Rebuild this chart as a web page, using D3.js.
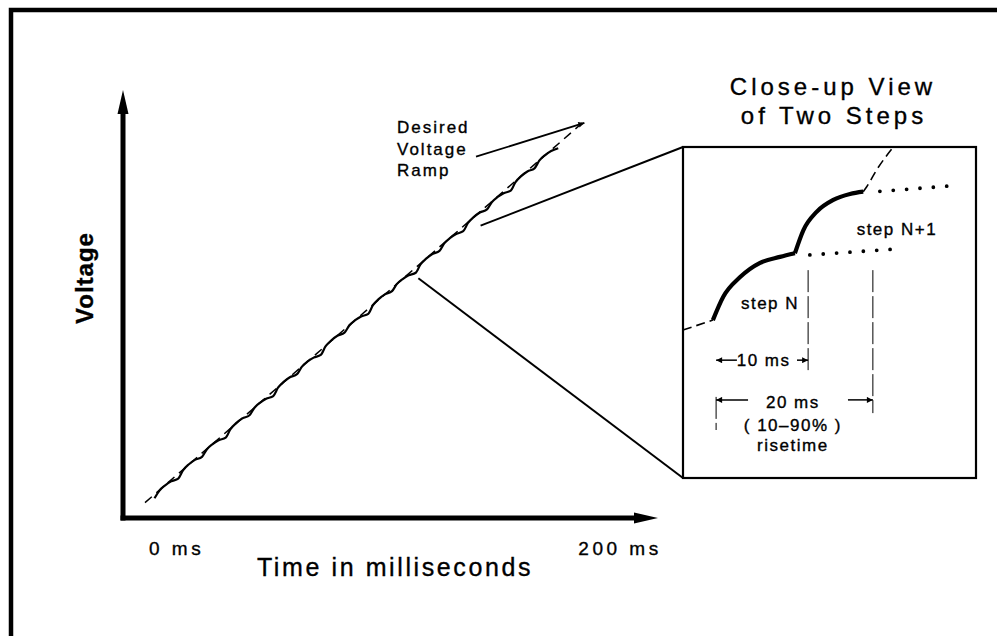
<!DOCTYPE html>
<html>
  <head>
    <meta charset="UTF-8" />
    <script src="https://d3js.org/d3.v7.min.js"></script>
    <title>Close-up View of Two Steps</title>
    <style>
      body { margin: 0; background: #fff; }
      text { font-family: "Liberation Sans", Arial, sans-serif; fill: #000; stroke: #000; stroke-width: 0.35px; }
    </style>
  </head>
  <body>
    <div id="chart"></div>
    <script>
      // ---- data ----
      // main plot: time in ms, voltage in % of full scale
      var rampTime = [0, 186];
      var rampVolt = [3.6, 93.2];

      // one 10 ms step each, voltage at the start of each step (last = end level)
      var stepTimes = [4, 14, 24, 34, 44, 54, 64, 74, 84, 94, 104, 114, 124, 134, 144, 154, 164, 174];
      var stepLevels = [4.6, 9.2, 14.3, 18.8, 24.0, 28.5, 33.6, 38.1, 43.3, 47.7, 53.0, 57.3, 62.4, 67.0, 72.1, 76.5, 81.7, 86.4];
      // shape of one small step in the main plot (fraction of width / of height)
      var stepShapeU = [0, 0.2, 0.45, 0.7, 1];
      var stepShapeV = [0, 0.38, 0.66, 0.86, 1];

      var xTickLabels = ["0 ms", "200 ms"];
      var xTickValues = [0, 200];

      // close-up inset, in % of the inset box
      var leadIn = [[0, 44.7], [10.2, 47.7]];
      var stepN = [[10.2, 47.7], [13.7, 54.7], [19.5, 60.7], [26.3, 65.0], [33.1, 66.8], [38.2, 67.9]];
      var stepN1 = [[38.2, 67.9], [41.1, 74.9], [45.6, 80.4], [51.3, 84.0], [57.0, 85.8], [61.5, 86.5]];
      var leadOut = [[61.5, 86.5], [62.7, 88.0], [66.1, 93.1], [71.8, 100]];
      var levelN = [[43.3, 67.4], [71.2, 69.1]];
      var levelN1 = [[67.2, 86.6], [90.6, 88.2]];
      var guideX = [11.3, 42.7, 64.8];
      var guideTop = [24.5, 62.8, 62.8];
      var guideBottom = [14.5, 32.0, 19.6];

      var svg = d3.select("#chart")
        .append("svg")
        .attr("width", 997)
        .attr("height", 636);

      var defs = svg.append("defs");
      defs.append("marker")
        .attr("id", "head")
        .attr("viewBox", "0 0 10 10")
        .attr("refX", 10)
        .attr("refY", 5)
        .attr("markerWidth", 10)
        .attr("markerHeight", 6)
        .attr("markerUnits", "userSpaceOnUse")
        .attr("orient", "auto")
        .append("path")
        .attr("d", "M0,0L10,5L0,10Z")
        .attr("fill", "#000");

      // frame
      svg.append("path")
        .attr("d", "M11,636V10H997")
        .attr("fill", "none")
        .attr("stroke", "#000")
        .attr("stroke-width", 4.5);

      // ---- main plot ----
      var x = d3.scaleLinear().domain([0, 200]).range([145, 620]);
      var y = d3.scaleLinear().domain([0, 100]).range([518, 90]);

      // axes as thick arrows
      svg.append("line")
        .attr("x1", 123).attr("y1", y(0) + 2.5)
        .attr("x2", 123).attr("y2", y(100) + 20)
        .attr("stroke", "#000").attr("stroke-width", 5);
      svg.append("path")
        .attr("d", "M123," + y(100) + "L128.5," + (y(100) + 24) + "L117.5," + (y(100) + 24) + "Z")
        .attr("fill", "#000");
      svg.append("line")
        .attr("x1", 120.5).attr("y1", y(0))
        .attr("x2", 638).attr("y2", y(0))
        .attr("stroke", "#000").attr("stroke-width", 5);
      svg.append("path")
        .attr("d", "M658," + y(0) + "L634," + (y(0) - 5.5) + "L634," + (y(0) + 5.5) + "Z")
        .attr("fill", "#000");

      // tick labels
      svg.selectAll(".xlab")
        .data(xTickValues)
        .enter()
        .append("text")
        .attr("x", function(d, i) { return i == 0 ? x(d) + 4 : x(d); })
        .attr("y", 555)
        .attr("text-anchor", function(d, i) { return i == 0 ? "start" : "middle"; })
        .style("font-size", "19px")
        .style("letter-spacing", "3.5px")
        .text(function(d, i) { return xTickLabels[i]; });

      svg.append("text")
        .attr("x", 395)
        .attr("y", 576)
        .attr("text-anchor", "middle")
        .style("font-size", "25px")
        .style("letter-spacing", "2.6px")
        .text("Time in milliseconds");

      svg.append("text")
        .attr("transform", "translate(93,278)rotate(-90)")
        .attr("text-anchor", "middle")
        .style("font-size", "24px")
        .style("font-weight", "bold")
        .style("letter-spacing", "1px")
        .text("Voltage");

      // actual stepped output
      var stepPts = [];
      stepTimes.forEach(function(t0, i) {
        if (i == stepTimes.length - 1) return;
        var v0 = stepLevels[i], v1 = stepLevels[i + 1];
        stepShapeU.forEach(function(u, k) {
          if (i > 0 && k == 0) return;
          stepPts.push([t0 + u * (stepTimes[i + 1] - t0), v0 + stepShapeV[k] * (v1 - v0)]);
        });
      });

      svg.append("path")
        .datum(stepPts)
        .attr("d", d3.line()
          .x(function(d) { return x(d[0]); })
          .y(function(d) { return y(d[1]); })
          .curve(d3.curveMonotoneX))
        .attr("fill", "none")
        .attr("stroke", "#000")
        .attr("stroke-width", 2.2);

      // desired ramp
      svg.append("line")
        .attr("x1", x(rampTime[0])).attr("y1", y(rampVolt[0]))
        .attr("x2", x(rampTime[1])).attr("y2", y(rampVolt[1]))
        .attr("stroke", "#000")
        .attr("stroke-width", 1.5)
        .attr("stroke-dasharray", "9,6");

      // ramp label
      svg.append("text")
        .attr("x", 397)
        .attr("y", 133)
        .style("font-size", "17px")
        .style("letter-spacing", "2px")
        .selectAll("tspan")
        .data(["Desired", "Voltage", "Ramp"])
        .enter()
        .append("tspan")
        .attr("x", 397)
        .attr("dy", function(d, i) { return i == 0 ? 0 : 21.5; })
        .text(function(d) { return d; });

      svg.append("line")
        .attr("x1", 476).attr("y1", 156.7)
        .attr("x2", x(185)).attr("y2", y(92.3))
        .attr("stroke", "#000")
        .attr("stroke-width", 1.8)
        .attr("marker-end", "url(#head)");

      // ---- inset ----
      var ix = d3.scaleLinear().domain([0, 100]).range([683, 976]);
      var iy = d3.scaleLinear().domain([0, 100]).range([478, 147]);
      var iline = d3.line()
        .x(function(d) { return ix(d[0]); })
        .y(function(d) { return iy(d[1]); });

      // leader lines from the ramp to the inset corners
      svg.append("line")
        .attr("x1", x(141.3)).attr("y1", y(68.3))
        .attr("x2", ix(0)).attr("y2", iy(100))
        .attr("stroke", "#000").attr("stroke-width", 2);
      svg.append("line")
        .attr("x1", x(115.1)).attr("y1", y(56.0))
        .attr("x2", ix(0)).attr("y2", iy(0))
        .attr("stroke", "#000").attr("stroke-width", 2);

      svg.append("rect")
        .attr("x", ix(0)).attr("y", iy(100))
        .attr("width", ix(100) - ix(0))
        .attr("height", iy(0) - iy(100))
        .attr("fill", "#fff")
        .attr("stroke", "#000")
        .attr("stroke-width", 2.2);

      svg.append("text")
        .attr("x", 833)
        .attr("y", 95)
        .attr("text-anchor", "middle")
        .style("font-size", "24px")
        .style("letter-spacing", "4px")
        .text("Close-up View");
      svg.append("text")
        .attr("x", 834)
        .attr("y", 124)
        .attr("text-anchor", "middle")
        .style("font-size", "24px")
        .style("letter-spacing", "4px")
        .text("of Two Steps");

      var inset = svg.append("g");

      [leadIn, leadOut].forEach(function(seg) {
        inset.append("path")
          .datum(seg)
          .attr("d", iline.curve(d3.curveMonotoneX))
          .attr("fill", "none")
          .attr("stroke", "#000")
          .attr("stroke-width", 1.6)
          .attr("stroke-dasharray", "9,5");
      });

      [stepN, stepN1].forEach(function(seg) {
        inset.append("path")
          .datum(seg)
          .attr("d", iline.curve(d3.curveMonotoneX))
          .attr("fill", "none")
          .attr("stroke", "#000")
          .attr("stroke-width", 4.2);
      });

      [levelN, levelN1].forEach(function(seg) {
        inset.append("path")
          .datum(seg)
          .attr("d", iline.curve(d3.curveLinear))
          .attr("fill", "none")
          .attr("stroke", "#000")
          .attr("stroke-width", 3.8)
          .attr("stroke-linecap", "round")
          .attr("stroke-dasharray", "0,13.4");
      });

      inset.selectAll(".guide")
        .data(guideX)
        .enter()
        .append("line")
        .attr("x1", function(d) { return ix(d); })
        .attr("x2", function(d) { return ix(d); })
        .attr("y1", function(d, i) { return iy(guideTop[i]); })
        .attr("y2", function(d, i) { return iy(guideBottom[i]); })
        .attr("stroke", "#000")
        .attr("stroke-width", 1)
        .attr("stroke-dasharray", "22,4");

      // dimension arrows
      var dims = [
        [18.4, 11.3, 35.6], [38.9, 42.7, 35.6],
        [22.2, 11.3, 23.6], [56.3, 64.8, 23.6]
      ];
      inset.selectAll(".dim")
        .data(dims)
        .enter()
        .append("line")
        .attr("x1", function(d) { return ix(d[0]); })
        .attr("x2", function(d) { return ix(d[1]); })
        .attr("y1", function(d) { return iy(d[2]); })
        .attr("y2", function(d) { return iy(d[2]); })
        .attr("stroke", "#000")
        .attr("stroke-width", 1.5)
        .attr("marker-end", "url(#head)");

      var insetLabels = [
        ["step N", 29.7, 52.8],
        ["step N+1", 73.0, 75.4],
        ["10 ms", 27.5, 35.6],
        ["20 ms", 37.5, 23.0],
        ["( 10\u201390% )", 37.5, 16.0],
        ["risetime", 37.5, 10.0]
      ];
      inset.selectAll(".lab")
        .data(insetLabels)
        .enter()
        .append("text")
        .attr("x", function(d) { return ix(d[1]); })
        .attr("y", function(d) { return iy(d[2]); })
        .attr("dy", "0.36em")
        .attr("text-anchor", "middle")
        .style("font-size", "17px")
        .style("letter-spacing", "1.5px")
        .text(function(d) { return d[0]; });
    </script>
  </body>
</html>
